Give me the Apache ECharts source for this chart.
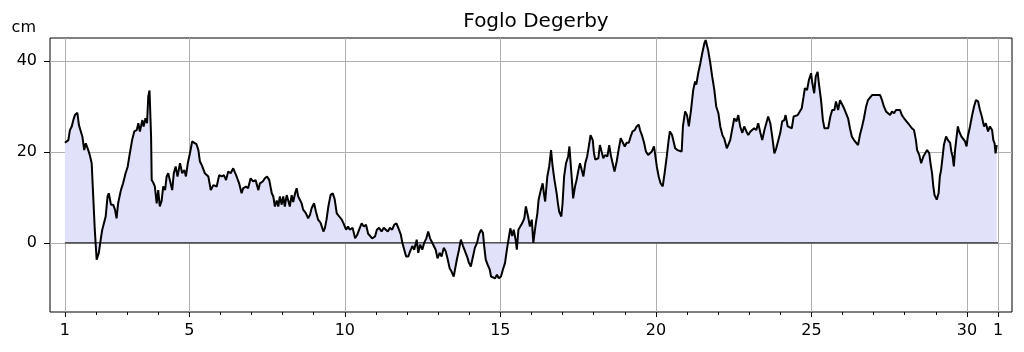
<!DOCTYPE html>
<html>
<head>
<meta charset="utf-8">
<script src="https://cdn.jsdelivr.net/npm/echarts@6/dist/echarts.min.js"></script>
<style>
  html, body { margin: 0; padding: 0; background: #fff; }
  #chart { width: 1024px; height: 352px; }
</style>
</head>
<body>
<div id="chart"></div>
<script>
// time in days of the month (1 = start of day 1), sea level in cm
const days = [
  1.00, 1.11, 1.16, 1.22, 1.27, 1.32, 1.40, 1.45, 1.51, 1.56, 1.62, 1.67, 1.73, 1.75, 1.80, 1.86, 1.91, 1.96,
  2.02, 2.09, 2.15, 2.20, 2.26, 2.31, 2.37, 2.41, 2.48, 2.55, 2.61, 2.66, 2.71, 2.80, 2.87, 2.95,
  3.02, 3.06, 3.12, 3.16, 3.23, 3.31, 3.36, 3.41, 3.49, 3.53, 3.59, 3.64, 3.68, 3.72, 3.77, 3.79, 3.85, 3.89, 3.95,
  4.00, 4.05, 4.11, 4.16, 4.22, 4.27, 4.32, 4.38, 4.45, 4.50, 4.56, 4.62, 4.70, 4.77, 4.84, 4.89, 4.95,
  5.02, 5.09, 5.16, 5.23, 5.29, 5.34, 5.40, 5.45, 5.50, 5.56, 5.61, 5.69, 5.77, 5.82, 5.88, 5.96,
  6.04, 6.11, 6.18, 6.25, 6.33, 6.41, 6.47, 6.52, 6.60, 6.68, 6.73, 6.82, 6.89, 6.97,
  7.05, 7.13, 7.22, 7.27, 7.36, 7.43, 7.50, 7.57, 7.65, 7.70, 7.75, 7.81, 7.86, 7.91, 7.97,
  8.02, 8.07, 8.13, 8.18, 8.23, 8.29, 8.34, 8.40, 8.45, 8.50, 8.56, 8.61, 8.66, 8.75, 8.82, 8.88, 8.93,
  9.01, 9.07, 9.14, 9.22, 9.31, 9.36, 9.41, 9.47, 9.54, 9.61, 9.67, 9.74, 9.82, 9.90, 9.95,
  10.04, 10.10, 10.16, 10.25, 10.33, 10.40, 10.46, 10.54, 10.61, 10.68, 10.75, 10.81, 10.88, 10.97,
  11.03, 11.10, 11.18, 11.25, 11.31, 11.38, 11.45, 11.52, 11.59, 11.66, 11.74, 11.80, 11.85, 11.91, 11.97,
  12.04, 12.10, 12.17, 12.23, 12.31, 12.36, 12.42, 12.49, 12.55, 12.62, 12.68, 12.74, 12.79, 12.85, 12.92, 12.98,
  13.05, 13.11, 13.18, 13.24, 13.31, 13.37, 13.43, 13.50, 13.54, 13.60, 13.67, 13.73, 13.80, 13.86, 13.93, 13.99,
  14.05, 14.12, 14.18, 14.25, 14.31, 14.38, 14.44, 14.48, 14.53, 14.59, 14.66, 14.70, 14.76, 14.83, 14.89, 14.95,
  15.02, 15.08, 15.15, 15.21, 15.28, 15.32, 15.38, 15.43, 15.49, 15.53, 15.58, 15.64, 15.70, 15.77, 15.82, 15.89, 15.95,
  16.01, 16.06, 16.10, 16.14, 16.19, 16.23, 16.30, 16.36, 16.40, 16.44, 16.51, 16.57, 16.63, 16.68, 16.74, 16.81, 16.85, 16.89, 16.96,
  17.00, 17.05, 17.11, 17.18, 17.22, 17.26, 17.30, 17.34, 17.40, 17.45, 17.51, 17.56, 17.62, 17.67, 17.73, 17.79, 17.86, 17.90, 17.97,
  18.01, 18.05, 18.10, 18.15, 18.20, 18.26, 18.31, 18.37, 18.44, 18.50, 18.55, 18.61, 18.67, 18.74, 18.80, 18.87, 18.93,
  19.00, 19.06, 19.13, 19.19, 19.25, 19.32, 19.38, 19.45, 19.49, 19.55, 19.62, 19.68, 19.75, 19.81, 19.87, 19.94, 19.98,
  20.03, 20.09, 20.15, 20.22, 20.28, 20.35, 20.41, 20.45, 20.52, 20.58, 20.62, 20.69, 20.75, 20.83, 20.87, 20.94,
  21.00, 21.06, 21.13, 21.20, 21.26, 21.30, 21.36, 21.43, 21.49, 21.56, 21.60, 21.64, 21.68, 21.75, 21.81, 21.88, 21.94,
  22.01, 22.07, 22.14, 22.20, 22.28, 22.33, 22.39, 22.46, 22.52, 22.59, 22.65, 22.71, 22.78, 22.84, 22.91, 22.97,
  23.04, 23.10, 23.16, 23.23, 23.29, 23.36, 23.42, 23.49, 23.55, 23.61, 23.68, 23.74, 23.81, 23.87, 23.93,
  24.00, 24.06, 24.13, 24.17, 24.24, 24.30, 24.37, 24.43, 24.49, 24.56, 24.62, 24.69, 24.75, 24.79, 24.86, 24.92, 24.99,
  25.03, 25.09, 25.14, 25.20, 25.24, 25.31, 25.37, 25.42, 25.48, 25.54, 25.61, 25.67, 25.74, 25.79, 25.86, 25.92, 25.98,
  26.05, 26.11, 26.18, 26.24, 26.30, 26.37, 26.43, 26.50, 26.56, 26.63, 26.69, 26.76, 26.82, 26.88, 26.95,
  27.01, 27.08, 27.14, 27.21, 27.27, 27.33, 27.40, 27.46, 27.53, 27.59, 27.66, 27.72, 27.78, 27.85, 27.91, 27.98,
  28.04, 28.11, 28.17, 28.23, 28.30, 28.36, 28.40, 28.47, 28.53, 28.60, 28.66, 28.72, 28.79, 28.83, 28.88, 28.92, 28.96,
  29.03, 29.09, 29.13, 29.17, 29.22, 29.26, 29.33, 29.39, 29.46, 29.50, 29.54, 29.58, 29.62, 29.67, 29.71, 29.75, 29.82, 29.88, 29.94, 29.99,
  30.03, 30.10, 30.16, 30.23, 30.29, 30.36, 30.42, 30.48, 30.55, 30.61, 30.68, 30.74, 30.81, 30.85, 30.89, 30.92, 30.96
]
const level = [
  22, 22.6, 24.8, 25.6, 27, 28.1, 28.6, 25.9, 26.3, 23.4, 20.4, 21.9, 21.5, 20.4, 19.3, 17.5, 10.2, 2.9,
  -3.7, -2.2, 0.7, 2.9, 2.9, 5.8, 10.2, 10.9, 8.4, 8.4, 7.3, 5.4, 8.7, 11.6, 13.1, 15.3,
  16.8, 18.6, 19, 22.6, 24.5, 24.8, 26.3, 24.5, 27, 25.6, 27.4, 26.3, 32.2, 33.5, 23.4, 13.8, 13.1, 12.4, 8.7,
  11.6, 8, 9.3, 12.4, 11.6, 14.6, 15.3, 15.6, 11.6, 15.3, 16.8, 14.6, 17.5, 15.3, 16, 14.6, 17.5,
  19.7, 22.3, 22, 21.7, 20.4, 17.9, 17.1, 17.5, 15.3, 15, 14.6, 11.6, 12.7, 13.1, 12.4, 14.9,
  14.6, 14.9, 13.8, 15.7, 15.3, 16.4, 16, 14.6, 13.1, 10.9, 12, 12.4, 12, 14.2,
  13.5, 13.8, 11.6, 13.1, 13.5, 14.2, 14.6, 13.8, 10.9, 10.2, 8, 9.3, 8, 10.2, 8.4,
  10.2, 8, 10.5, 9.3, 8, 10.5, 9, 10.9, 12, 10.2, 10.5, 8.7, 7.3, 6.5, 5.4, 6.2, 7.6,
  8.7, 6.9, 5.1, 4.4, 2.5, 3.3, 5.1, 8, 10.5, 10.9, 9.7, 6.5, 5.8, 5.1, 4.4,
  2.9, 3.6, 2.9, 3.3, 1, 1.8, 2.9, 4.3, 3.6, 4, 2, 1.8, 1, 1.4,
  2.9, 3.3, 2.5, 3.3, 3.6, 2.5, 3.3, 2.9, 4, 4.3, 2.9, 1.8, 0, -1.5, -3,
  -3, -1.8, -0.7, -1.5, 0.7, -2.2, -0.4, -1.5, 0, 1, 2.5, 1, 0.3, 0, -1.5, -3.4,
  -2.2, -3, -1.1, -1.8, -3.7, -5.6, -6.3, -7.4, -5.9, -3.7, -1.5, 0.7, -0.7, -1.1, -3, -4.4,
  -5.2, -3, -1.1, 0, 1.8, 2.9, 2.2, -0.7, -3.7, -4.8, -5.9, -7.4, -7, -7.8, -7, -7.8,
  -7.4, -5.9, -4.4, -1.5, 1.5, 3.2, 1.5, 2.9, 0.7, -1.5, 2.9, 3.6, 4.3, 5.4, 8, 5.8, 3.6,
  5.1, 0, 2.2, 4.3, 6.5, 9.5, 11.6, 13.1, 10.9, 9.1, 14.6, 16.8, 20.4, 16.8, 13.8, 10.9, 8.7, 6.9, 5.8,
  8.7, 14.6, 17.5, 19, 21.2, 17.5, 13.8, 9.8, 12.4, 13.8, 16, 17.5, 17.9, 14.6, 17.5, 19, 21.9, 23.7, 22.6,
  19.7, 18.3, 17.9, 18.6, 21.5, 21.2, 18.6, 19.3, 19, 21.5, 19.3, 17.5, 15.7, 17.9, 20.4, 23, 23.4,
  21.2, 22, 22, 23.4, 24.5, 24.8, 25.6, 26, 24.8, 23.7, 22, 20.1, 19.3, 19, 20.1, 21.2, 19.3,
  16.8, 14.6, 13.1, 12.4, 15.3, 19, 22.6, 24.5, 23.7, 23.4, 20.8, 20.4, 20.1, 20.1, 25.6, 28.9,
  28.1, 25.6, 29.2, 33.6, 35.5, 34.8, 37.3, 39.5, 41.7, 43.9, 44.6, 43.5, 42.4, 39.5, 36.6, 33.6, 30,
  28.5, 25.6, 23.7, 22.9, 20.8, 21.2, 22.6, 25.2, 27.4, 26.7, 28.1, 25.6, 24.2, 25.6, 24.5, 23.7,
  24.5, 24.8, 25.2, 24.8, 26.3, 24.2, 22.6, 24.8, 26.3, 27.8, 26.3, 23.4, 19.7, 20.8, 21.2,
  24.2, 26.7, 27, 28.1, 25.6, 26, 25.2, 27.8, 27.4, 28.1, 28.5, 29.6, 32.2, 34, 33.6, 35.8, 37.3,
  35.1, 32.9, 36.6, 37.6, 35.1, 31.4, 27, 25.2, 24.8, 25.2, 27.8, 29.2, 29.2, 31.1, 29.2, 31.4, 31.1,
  29.6, 29.2, 27.4, 25.2, 23.4, 22.6, 23, 21.5, 23.7, 25.6, 27.4, 30, 31.4, 31.8, 32.5,
  32.2, 32.5, 32.9, 32.5, 31.4, 30, 28.9, 28.5, 28.1, 28.9, 28.5, 29.2, 28.9, 29.2, 28.1, 27.4,
  27, 26.3, 26, 25.2, 24.8, 22.6, 20.4, 19.3, 17.5, 19, 19.3, 20.4, 19.7, 17.5, 15.3, 12.4, 10.5,
  9.5, 10.9, 14.6, 16, 19, 21.5, 23.4, 22.6, 22, 20.1, 19, 16.8, 20.4, 23.4, 25.6, 24.5, 23.4, 23.4, 22.3, 21.2,
  23.4, 25.6, 27.8, 30, 31.4, 31.1, 29.2, 27.8, 25.6, 26.3, 24.5, 25.6, 24.8, 22.6, 21.9, 19.7, 21.5
]

const monthStart = 1
const monthEnd = 31
const dayTicks = Array.from({ length: 31 }, (_, i) => i + 1)
const labelDays = [1, 5, 10, 15, 20, 25, 30, 31]
const levelTicks = [0, 20, 40]

const font = 'DejaVu Sans'
const chart = echarts.init(document.getElementById('chart'))

const points = days.map((d, i) => [d, level[i]])

chart.setOption({
  animation: false,
  backgroundColor: '#fff',
  title: {
    text: 'Foglo Degerby',
    left: 531,
    top: 7,
    textAlign: 'center',
    textStyle: { fontFamily: font, fontSize: 20, fontWeight: 'normal', color: '#000' },
  },
  grid: {
    left: 50,
    right: 12,
    top: 38,
    bottom: 40,
    show: true,
    borderColor: '#000',
    borderWidth: 1,
    backgroundColor: 'transparent',
  },
  xAxis: [
    {
      type: 'value',
      min: 0.52,
      max: 31.45,
      axisLine: { show: false, onZero: false },
      axisTick: { show: true, length: 5, customValues: labelDays, lineStyle: { color: '#000' } },
      axisLabel: {
        customValues: labelDays,
        margin: 11,
        fontFamily: font,
        fontSize: 16,
        color: '#000',
        formatter: v => (v === monthEnd ? '1' : String(v)),
      },
      splitLine: { show: true, lineStyle: { color: '#b0b0b0', width: 1 } },
    },
    {
      type: 'value',
      min: 0.52,
      max: 31.45,
      position: 'bottom',
      axisLine: { show: false, onZero: false },
      axisTick: { show: true, length: 3, customValues: dayTicks, lineStyle: { color: '#000' } },
      axisLabel: { show: false },
      splitLine: { show: false },
    },
  ],
  yAxis: {
    type: 'value',
    min: -15.2,
    max: 45.05,
    name: 'cm',
    nameGap: 2,
    nameTextStyle: { fontFamily: font, fontSize: 16, color: '#000', align: 'right', padding: [0, 14, 0, 0] },
    axisLine: { show: false },
    axisTick: { show: true, length: 6, customValues: levelTicks, lineStyle: { color: '#000' } },
    axisLabel: { customValues: levelTicks, margin: 13, fontFamily: font, fontSize: 16, color: '#000' },
    splitLine: { show: true, lineStyle: { color: '#b0b0b0', width: 1 } },
  },
  series: [
    {
      type: 'line',
      data: points,
      showSymbol: false,
      symbol: 'none',
      lineStyle: { color: '#000', width: 2 },
      areaStyle: { color: '#e1e1f9', opacity: 1, origin: 0 },
      z: 3,
    },
    {
      type: 'line',
      data: [[monthStart, 0], [monthEnd, 0]],
      showSymbol: false,
      symbol: 'none',
      lineStyle: { color: '#000', width: 1 },
      z: 4,
    },
  ],
})
</script>
</body>
</html>
